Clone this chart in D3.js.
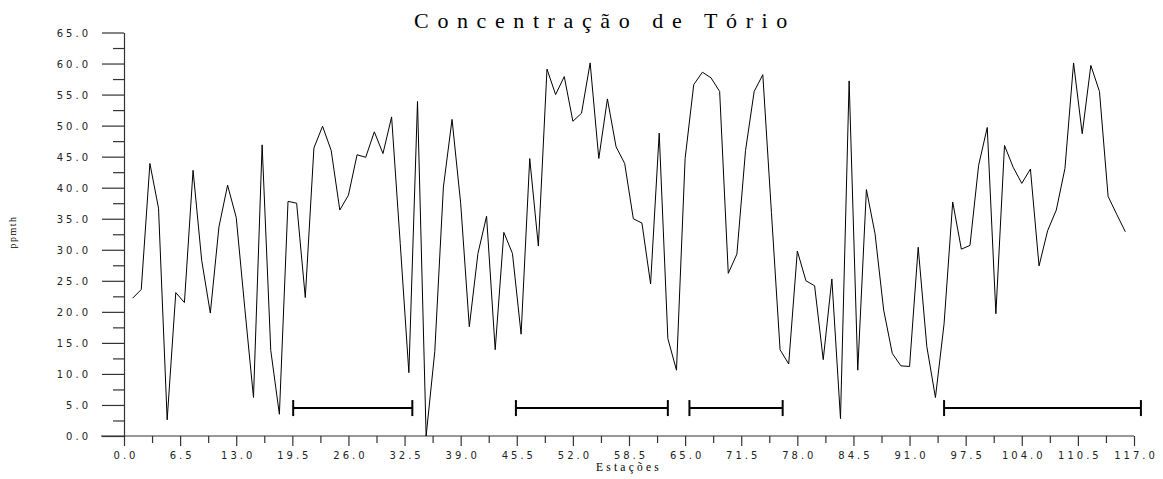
<!DOCTYPE html>
<html>
<head>
<meta charset="utf-8">
<script src="https://cdn.jsdelivr.net/npm/d3@7/dist/d3.min.js"></script>
<style>
  html, body { margin: 0; padding: 0; background: #fff; }
  svg { display: block; }
</style>
</head>
<body>
<svg id="chart" width="1163" height="479"></svg>
<script>
// ---- data ----
const stations = d3.range(1, 117); // 1..116
const thorium = [
  22.2, 23.6, 43.9, 36.7, 2.6, 23.1, 21.5, 42.8, 28.3, 19.8,
  33.7, 40.4, 35.2, 20.5, 6.2, 46.9, 13.8, 3.5, 37.8, 37.5,
  22.3, 46.4, 49.9, 46.0, 36.4, 38.8, 45.3, 44.9, 49.0, 45.5,
  51.4, 31.0, 10.2, 53.9, 0.0, 13.6, 40.1, 51.0, 37.5, 17.6,
  29.4, 35.4, 13.9, 32.8, 29.4, 16.4, 44.7, 30.6, 59.1, 55.0,
  57.9, 50.7, 52.0, 60.1, 44.7, 54.3, 46.6, 43.9, 35.0, 34.3,
  24.5, 48.8, 15.7, 10.6, 44.7, 56.6, 58.6, 57.7, 55.5, 26.2,
  29.3, 46.0, 55.5, 58.2, 36.0, 13.9, 11.6, 29.8, 25.0, 24.2,
  12.3, 25.3, 2.8, 57.2, 10.6, 39.7, 32.6, 20.3, 13.3, 11.3,
  11.2, 30.4, 14.4, 6.2, 18.1, 37.7, 30.1, 30.7, 43.6, 49.7,
  19.7, 46.8, 43.3, 40.7, 43.0, 27.4, 33.1, 36.4, 43.1, 60.1,
  48.7, 59.7, 55.5, 38.6, 35.7, 32.9
];
const intervalStart = [19.6, 45.4, 65.5, 95.0];
const intervalEnd   = [33.4, 63.0, 76.3, 117.8];
const intervalLevel = [4.5, 4.5, 4.5, 4.5];
const xMajorTicks = d3.range(0, 117.01, 6.5);
const xMinorTicks = d3.range(3.25, 117, 6.5);
const yMajorTicks = d3.range(0, 65.01, 5);
const yMinorTicks = d3.range(2.5, 65, 5);
const titleText = "Concentração de Tório";
const xLabel = "Estações";
const yLabel = "ppmth";

// ---- drawing ----
const svg = d3.select("#chart");
const x = d3.scaleLinear().domain([0, 117]).range([124, 1134]);
const y = d3.scaleLinear().domain([0, 65]).range([436, 32.5]);
const axisColor = "#333";
const tickFont = "DejaVu Sans, Verdana, sans-serif";

// X axis minor
const gxm = svg.append("g").attr("transform", `translate(0,${y(0)})`)
  .call(d3.axisBottom(x).tickValues(xMinorTicks).tickSize(7).tickFormat(""));
// X axis major
const gx = svg.append("g").attr("transform", `translate(0,${y(0)})`)
  .call(d3.axisBottom(x).tickValues(xMajorTicks).tickSize(10).tickSizeOuter(0)
        .tickFormat(d3.format(".1f")));
// Y axis minor
const gym = svg.append("g").attr("transform", `translate(${x(0)},0)`)
  .call(d3.axisLeft(y).tickValues(yMinorTicks).tickSize(11).tickFormat(""));
// Y axis major
const gy = svg.append("g").attr("transform", `translate(${x(0)},0)`)
  .call(d3.axisLeft(y).tickValues(yMajorTicks).tickSize(22).tickSizeOuter(0)
        .tickFormat(d3.format(".1f")));

[gxm, gx, gym, gy].forEach(g => {
  g.selectAll("path.domain").attr("stroke", axisColor).attr("stroke-width", 1.2);
  g.selectAll(".tick line").attr("stroke", axisColor).attr("stroke-width", 1.2);
});
gxm.select("path.domain").remove();
gym.select("path.domain").remove();
// extend x-axis line to the left like the reference
gx.select("path.domain").attr("d", `M${x(0) - 23},0H${x(117)}`);

gx.selectAll(".tick text")
  .attr("y", 15.5).attr("dy", "0.71em")
  .attr("font-family", tickFont)
  .attr("font-size", 10).attr("fill", "#222")
  .attr("letter-spacing", 3)
  .attr("text-anchor", "middle")
  .attr("dx", 1.5);
gy.selectAll(".tick text")
  .attr("x", -33).attr("dy", "0.35em")
  .attr("font-family", tickFont)
  .attr("font-size", 10).attr("fill", "#222")
  .attr("letter-spacing", 3);

// data line
const line = d3.line().x((d, i) => x(stations[i])).y(d => y(d));
svg.append("path").datum(thorium)
  .attr("d", line)
  .attr("fill", "none").attr("stroke", "#000").attr("stroke-width", 1)
  .attr("stroke-linejoin", "miter");

// interval bars
const bars = svg.append("g").attr("stroke", "#000").attr("stroke-width", 2);
intervalStart.forEach((s, i) => {
  const e = intervalEnd[i], lv = intervalLevel[i];
  bars.append("line").attr("x1", x(s)).attr("x2", x(e)).attr("y1", y(lv)).attr("y2", y(lv));
  bars.append("line").attr("x1", x(s)).attr("x2", x(s)).attr("y1", y(lv) - 8).attr("y2", y(lv) + 8);
  bars.append("line").attr("x1", x(e)).attr("x2", x(e)).attr("y1", y(lv) - 8).attr("y2", y(lv) + 8);
});

// title
svg.append("text").text(titleText)
  .attr("x", 605).attr("y", 28)
  .attr("text-anchor", "middle")
  .attr("font-family", "Liberation Serif, Times New Roman, serif")
  .attr("font-size", 22).attr("letter-spacing", 8.6).attr("fill", "#000");

// x label
svg.append("text").text(xLabel)
  .attr("x", 629).attr("y", 470.5)
  .attr("text-anchor", "middle")
  .attr("font-family", "Liberation Serif, Times New Roman, serif")
  .attr("font-size", 11.5).attr("letter-spacing", 3.2).attr("fill", "#000");

// y label
svg.append("text").text(yLabel)
  .attr("transform", "translate(16,232) rotate(-90)")
  .attr("text-anchor", "middle")
  .attr("font-family", "Liberation Serif, Times New Roman, serif")
  .attr("font-size", 10).attr("letter-spacing", 1.5).attr("fill", "#000");
</script>
</body>
</html>
